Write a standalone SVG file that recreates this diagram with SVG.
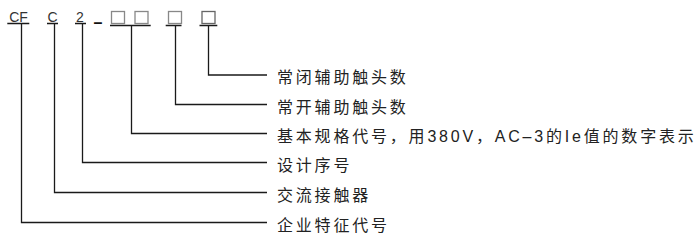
<svg xmlns="http://www.w3.org/2000/svg" width="696" height="242" viewBox="0 0 696 242">
<style>
.code{font-family:"Liberation Sans",Arial,sans-serif;font-size:14px;fill:#333}
.lbl{font-family:"Liberation Sans","Noto Sans CJK SC",sans-serif;font-size:16px;letter-spacing:2.8px;fill:#222}
.ln{fill:none;stroke:#1a1a1a;stroke-width:1.3}
.box{fill:#fff;stroke:#888;stroke-width:1.3}
</style>
<rect width="696" height="242" fill="#fff"/>
<g id="code">
<g id="n-cf"><text class="code" x="18.5" y="21.5" text-anchor="middle">CF</text></g>
<g id="n-c"><text class="code" x="52.5" y="21.5" text-anchor="middle">C</text></g>
<g id="n-2"><text class="code" x="80" y="21.5" text-anchor="middle">2</text></g>
<g id="n-dash"><text x="98" y="28" text-anchor="middle" style="font-family:'Liberation Sans',sans-serif;font-size:16px;font-weight:bold;fill:#111">–</text></g>
<g id="n-box12"><rect class="box" x="111.5" y="11.5" width="13" height="12"/><rect class="box" x="135" y="11.5" width="13" height="12"/></g>
<g id="n-box3"><rect class="box" x="168.5" y="11.5" width="13" height="12"/></g>
<g id="n-box4"><rect class="box" x="202" y="11.5" width="13" height="12" style="stroke:#666"/></g>
</g>
<g id="labels">
<g id="l1"><text class="lbl" x="277" y="83">常闭辅助触头数</text></g>
<g id="l2"><text class="lbl" x="277" y="112.5">常开辅助触头数</text></g>
<g id="l3"><text class="lbl" x="277" y="141.5">基本规格代号，用380V，AC–3的Ie值的数字表示</text></g>
<g id="l4"><text class="lbl" x="277" y="170.5">设计序号</text></g>
<g id="l5"><text class="lbl" x="277" y="200.5">交流接触器</text></g>
<g id="l6"><text class="lbl" x="277" y="230.5">企业特征代号</text></g>
</g>
<g id="connectors">
<path class="ln" d="M7.3 23.5H29.3M47 23.5H58M75 23.5H86M110 25.5H150.7M165.7 25.5H181.5M199.5 25.5H217.3"/>
<path class="ln" d="M208.5 25.5V75H267"/>
<path class="ln" d="M175.5 25.5V104.5H267"/>
<path class="ln" d="M131.5 25.5V133.5H267"/>
<path class="ln" d="M82.5 23.5V162.5H267"/>
<path class="ln" d="M54.5 23.5V192.5H267"/>
<path class="ln" d="M21.5 23.5V222.5H267"/>
</g>
</svg>
